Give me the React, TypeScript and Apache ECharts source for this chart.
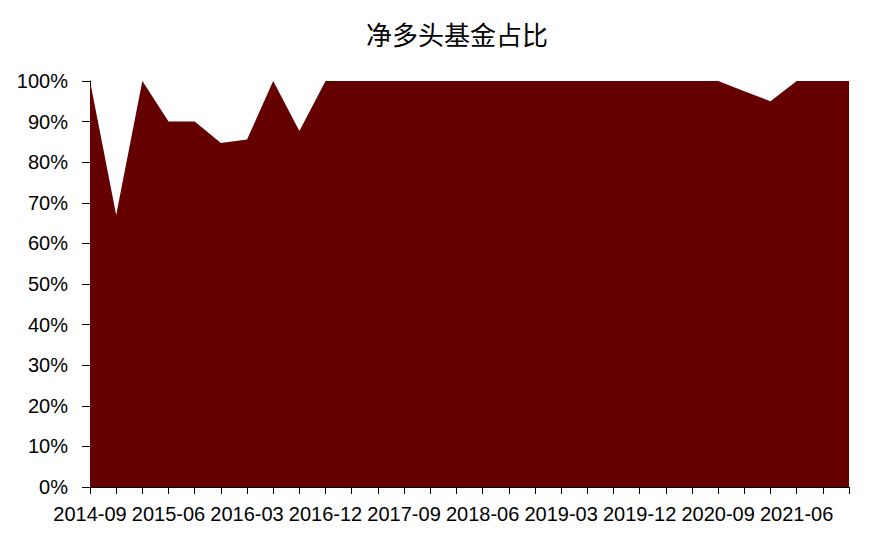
import { useRef, useEffect } from 'react'
import * as echarts from 'echarts'

// quarterly, 2014-09 .. 2021-12
const quarters: string[] = [
  '2014-09', '2014-12',
  '2015-03', '2015-06', '2015-09', '2015-12',
  '2016-03', '2016-06', '2016-09', '2016-12',
  '2017-03', '2017-06', '2017-09', '2017-12',
  '2018-03', '2018-06', '2018-09', '2018-12',
  '2019-03', '2019-06', '2019-09', '2019-12',
  '2020-03', '2020-06', '2020-09', '2020-12',
  '2021-03', '2021-06', '2021-09', '2021-12',
]

// share of net-long funds
const netLongShare: number[] = [
  1, 0.67,
  1, 0.9, 0.9, 0.847,
  0.856, 1, 0.877, 1,
  1, 1, 1, 1,
  1, 1, 1, 1,
  1, 1, 1, 1,
  1, 1, 1, 0.975,
  0.95, 1, 1, 1,
]

const TITLE = '净多头基金占比'
const AREA_COLOR = '#640000'
const LABEL_FONT = '"Liberation Sans", Arial, sans-serif'

export default function App() {
  const chartRef = useRef<HTMLDivElement>(null)

  useEffect(() => {
    if (!chartRef.current) return
    const chart = echarts.init(chartRef.current, undefined, { renderer: 'svg' })

    const option: echarts.EChartsOption = {
      animation: false,
      graphic: [
        {
          type: 'text',
          x: 457,
          y: 33,
          style: {
            text: TITLE,
            fill: '#000',
            font: '26px "Noto Sans CJK SC", sans-serif',
            textAlign: 'center',
            textVerticalAlign: 'middle',
          },
        },
      ],
      grid: { left: 90, right: 29, top: 81, bottom: 57 },
      xAxis: {
        type: 'category',
        data: quarters,
        boundaryGap: false,
        axisLine: { lineStyle: { color: '#000', width: 1 } },
        axisTick: { show: true, interval: 0, length: 7, lineStyle: { color: '#000' } },
        axisLabel: {
          interval: 2,
          margin: 17,
          color: '#000',
          fontSize: 20,
          fontFamily: LABEL_FONT,
        },
      },
      yAxis: {
        type: 'value',
        min: 0,
        max: 1,
        interval: 0.1,
        axisLine: { show: true, lineStyle: { color: '#000', width: 1 } },
        axisTick: { show: true, length: 8, lineStyle: { color: '#000' } },
        splitLine: { show: false },
        axisLabel: {
          margin: 22,
          color: '#000',
          fontSize: 20,
          fontFamily: LABEL_FONT,
          formatter: (v: number) => `${Math.round(v * 100)}%`,
        },
      },
      series: [
        {
          type: 'line',
          data: netLongShare,
          symbol: 'none',
          lineStyle: { width: 0 },
          areaStyle: { color: AREA_COLOR, opacity: 1 },
        },
      ],
    }

    chart.setOption(option)
    return () => chart.dispose()
  }, [])

  return (
    <div
      ref={chartRef}
      style={{ position: 'absolute', left: 0, top: 0, width: 878, height: 544 }}
    />
  )
}
